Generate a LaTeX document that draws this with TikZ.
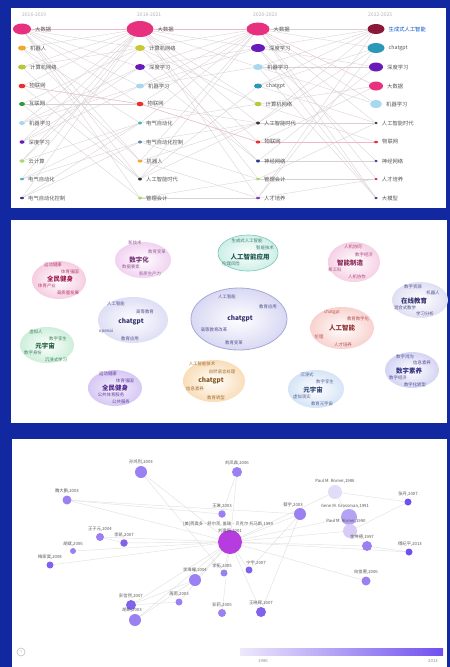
\documentclass[tikz,border=0pt]{standalone}
\usepackage{fontspec}
\setmainfont{Noto Sans CJK SC}
\usetikzlibrary{shapes.geometric}
\pgfdeclarelayer{back}
\pgfdeclarelayer{lines}
\pgfsetlayers{back,lines,main}
\definecolor{bgblue}{HTML}{1228A0}
\definecolor{kwtext}{HTML}{555555}
\definecolor{edgegray}{HTML}{D8D0D4}
\definecolor{edgepink}{HTML}{EEB8CC}
\definecolor{cpink}{HTML}{E8317E}
\definecolor{corange}{HTML}{F0A830}
\definecolor{cyg}{HTML}{B8C83A}
\definecolor{cred}{HTML}{E83030}
\definecolor{cgreen}{HTML}{2A9A3A}
\definecolor{clblue}{HTML}{A8D8F0}
\definecolor{cpurple}{HTML}{6A1AB8}
\definecolor{clgreen}{HTML}{A8D870}
\definecolor{cteal}{HTML}{48B8C0}
\definecolor{cnavy}{HTML}{2A3A8A}
\definecolor{colive}{HTML}{C8C830}
\definecolor{cslate}{HTML}{5A8AA0}
\definecolor{cdark}{HTML}{3A3434}
\definecolor{cdred}{HTML}{8A1838}
\definecolor{cchat}{HTML}{2A98B8}
\definecolor{cviolet}{HTML}{8A3AB8}
\definecolor{crose}{HTML}{C83050}
\definecolor{nmid}{HTML}{9B80F2}
\definecolor{ndark}{HTML}{8262EC}
\definecolor{nnew}{HTML}{7050EE}
\definecolor{nlight}{HTML}{E2DCF8}
\definecolor{nlight2}{HTML}{D6CCF6}
\definecolor{ngene}{HTML}{B6A2F4}
\definecolor{nhub}{HTML}{B63CE0}
\definecolor{nedge}{HTML}{E2E2E2}
\definecolor{barlo}{HTML}{EDE9FC}
\definecolor{fa}{HTML}{F1D2F1}\definecolor{ta}{HTML}{966096}\definecolor{tta}{HTML}{783278}
\definecolor{fb}{HTML}{F6CDE0}\definecolor{tb}{HTML}{B43C6E}\definecolor{ttb}{HTML}{A01E50}
\definecolor{fc}{HTML}{CDEFE6}\definecolor{tc}{HTML}{3C786E}\definecolor{ttc}{HTML}{1E5A50}\definecolor{dc}{HTML}{78C8B9}
\definecolor{fd}{HTML}{D8D8F4}\definecolor{td}{HTML}{50508C}\definecolor{ttd}{HTML}{32326E}\definecolor{dd}{HTML}{A5AAD7}
\definecolor{fe}{HTML}{DEDEF6}
\definecolor{ff}{HTML}{CDEEDB}\definecolor{tf}{HTML}{3C825A}\definecolor{ttf}{HTML}{1E643C}
\definecolor{fg}{HTML}{D6C8F4}\definecolor{fgi}{HTML}{F4F0FC}\definecolor{tg}{HTML}{643CA0}\definecolor{ttg}{HTML}{50288C}
\definecolor{fh}{HTML}{F9DDB8}\definecolor{th}{HTML}{A06E32}\definecolor{tth}{HTML}{825519}
\definecolor{fi}{HTML}{F6D0E4}\definecolor{ti}{HTML}{AA4678}\definecolor{tti}{HTML}{8C285A}
\definecolor{fj}{HTML}{DFDFF4}
\definecolor{fk}{HTML}{F8D2CE}\definecolor{tk}{HTML}{B45050}\definecolor{ttk}{HTML}{963232}
\definecolor{fl}{HTML}{D4D4F4}\definecolor{tl}{HTML}{505096}\definecolor{ttl}{HTML}{323282}
\definecolor{fm}{HTML}{D6E4F6}\definecolor{tm}{HTML}{506496}\definecolor{ttm}{HTML}{324678}
\tikzset{
  bub/.style={ellipse, inner sep=0pt, draw=none},
  kw/.style={font=\fontsize{5.3}{6}\selectfont, text=kwtext, anchor=west, inner sep=0.3pt},
  yr/.style={font=\fontsize{5}{6}\selectfont, text=black!30, anchor=west, inner sep=0pt},
  pe/.style={draw=edgegray, line width=0.35pt},
  pp/.style={draw=edgepink, line width=0.4pt},
  cl/.style={font=\fontsize{4.4}{5}\selectfont, inner sep=0pt},
  cc/.style={font=\fontsize{6.5}{7}\selectfont\bfseries, inner sep=0pt},
  aun/.style={circle, inner sep=0pt, draw=none},
  aul/.style={font=\fontsize{4.3}{5}\selectfont, text=black!65, inner sep=0pt},
  ne/.style={draw=nedge, line width=0.45pt}
}
\newcommand\kwb[7]{\node[bub,fill=#6,minimum width=#4pt,minimum height=#5pt] (#1) at (#2,#3) {};\node[kw] (#1t) at ([xshift=3.5pt]#1.east) {#7};}
\newcommand\au[6]{\node[aun,fill=#5,minimum size=#4pt] (#1) at (#2,#3) {};\node[aul,anchor=south] (#1t) at ([yshift=1.5pt]#1.north) {#6};}
\begin{document}
\begin{tikzpicture}[x=1pt,y=-1pt]
\useasboundingbox (0,0) rectangle (450,667);
\begin{pgfonlayer}{back}
\fill[bgblue] (0,0) rectangle (450,667);
\fill[white] (11,8) rectangle (446,208);
\fill[white] (11,220) rectangle (447,423);
\fill[white] (12,439) rectangle (447,667);
\end{pgfonlayer}

% ---------------- panel 1 ----------------
\node[yr] (h1) at (22,15) {2016-2019};
\node[yr] (h2) at (137,15) {2018-2021};
\node[yr] (h3) at (253,15) {2020-2023};
\node[yr] (h4) at (368,15) {2022-2025};

\kwb{A1}{22}{29}{18}{11}{cpink}{大数据}
\kwb{A2}{22}{48}{8}{5}{corange}{机器人}
\kwb{A3}{22}{67}{8}{5}{cyg}{计算机网络}
\kwb{A4}{22}{86}{7}{4.5}{cred}{物联网}
\kwb{A5}{22}{104}{6}{4}{cgreen}{互联网}
\kwb{A6}{22}{123}{6}{4}{clblue}{机器学习}
\kwb{A7}{22}{142}{5}{3.5}{cpurple}{深度学习}
\kwb{A8}{22}{161}{5}{3.5}{clgreen}{云计算}
\kwb{A9}{22}{179}{4}{2.5}{cteal}{电气自动化}
\kwb{A10}{22}{198}{4}{2.5}{cnavy}{电气自动化控制}

\kwb{B1}{140}{29}{27}{16}{cpink}{大数据}
\kwb{B2}{140}{48}{10}{6}{colive}{计算机网络}
\kwb{B3}{140}{67}{10}{6}{cpurple}{深度学习}
\kwb{B4}{140}{86}{8}{5}{clblue}{机器学习}
\kwb{B5}{140}{104}{7}{4.5}{cred}{物联网}
\kwb{B6}{140}{123}{4}{3}{cteal}{电气自动化}
\kwb{B7}{140}{142}{4}{3}{cslate}{电气自动化控制}
\kwb{B8}{140}{161}{5}{3}{corange}{机器人}
\kwb{B9}{140}{179}{4}{3}{cdark}{人工智能时代}
\kwb{B10}{140}{198}{4}{3}{clgreen}{管理会计}

\kwb{C1}{258}{29}{23}{13}{cpink}{大数据}
\kwb{C2}{258}{48}{14}{8}{cpurple}{深度学习}
\kwb{C3}{258}{67}{10}{6}{clblue}{机器学习}
\kwb{C4}{258}{86}{8}{5}{cchat}{chatgpt}
\kwb{C5}{258}{104}{7}{4.5}{cyg}{计算机网络}
\kwb{C6}{258}{123}{4}{3}{cdark}{人工智能时代}
\kwb{C7}{258}{142}{5}{3}{cred}{物联网}
\kwb{C8}{258}{161}{4}{3}{cnavy}{神经网络}
\kwb{C9}{258}{179}{4}{2.5}{clgreen}{管理会计}
\kwb{C10}{258}{198}{4}{2.5}{cviolet}{人才培养}

\node[bub,fill=cdred,minimum width=17pt,minimum height=10pt] (D1) at (376,29) {};
\node[kw,text=blue!60!cyan!80!black] (D1t) at ([xshift=3.5pt]D1.east) {生成式人工智能};
\kwb{D2}{376}{48}{17}{10}{cchat}{chatgpt}
\kwb{D3}{376}{67}{14}{9}{cpurple}{深度学习}
\kwb{D4}{376}{86}{14}{9}{cpink}{大数据}
\kwb{D5}{376}{104}{12}{8}{clblue}{机器学习}
\kwb{D6}{376}{123}{3.5}{2.5}{cdark}{人工智能时代}
\kwb{D7}{376}{142}{4}{2.5}{cred}{物联网}
\kwb{D8}{376}{161}{3.5}{2.5}{cnavy}{神经网络}
\kwb{D9}{376}{179}{3.5}{2.5}{crose}{人才培养}
\kwb{D10}{376}{198}{3.5}{2.5}{cnavy}{大模型}

\begin{pgfonlayer}{lines}
\draw[pp] (A1) -- (B1);
\foreach \a/\b in {A1/B2,A1/B3,A1/B4,A1/B5,A1/B8,A1/B9,A1/B10,A2/B8,A2/B1,A3/B2,A3/B1,A4/B5,A4/B1,A5/B5,A5/B2,A6/B4,A6/B1,A7/B3,A7/B4,A8/B1,A8/B2,A9/B6,A9/B7,A10/B7,A10/B6,A3/B9,A4/B9,A2/B6,A6/B3,A7/B1,A9/B1,A10/B1,A5/B10,A8/B6}
  \draw[pe] (\a) -- (\b);
\draw[pp] (B1) -- (C1);
\foreach \a/\b in {B1/C2,B1/C3,B1/C5,B1/C6,B1/C7,B1/C9,B1/C10,B2/C5,B2/C1,B3/C2,B3/C1,B3/C8,B4/C3,B4/C1,B4/C2,B5/C7,B5/C1,B6/C1,B7/C6,B8/C6,B8/C1,B9/C6,B9/C1,B9/C4,B10/C9,B10/C10,B2/C8,B5/C6,B6/C5,B7/C9,B8/C10}
  \draw[pe] (\a) -- (\b);
\draw[pp] (C1) -- (D4);
\foreach \a/\b in {C1/D1,C1/D2,C1/D5,C1/D6,C1/D9,C1/D10,C2/D3,C2/D1,C2/D8,C3/D5,C3/D1,C3/D3,C4/D2,C4/D1,C4/D6,C5/D7,C5/D4,C6/D6,C6/D1,C6/D2,C7/D7,C7/D4,C8/D8,C8/D3,C9/D9,C10/D9,C10/D1,C10/D2,C2/D10,C3/D10,C9/D6}
  \draw[pe] (\a) -- (\b);
\draw[pp] (B5) -- (C7);
\draw[pp] (C7) -- (D7);
\draw[pp] (A4) -- (B5);
\end{pgfonlayer}

% ---------------- panel 2 ----------------
% cluster 1
\shade[inner color=white, outer color=fa] (143,260) ellipse [x radius=28pt, y radius=18pt];
\node[cl,text=ta] (k1a) at (135,243) {新技术};
\node[cl,text=ta] (k1b) at (157,252) {教育变革};
\node[cc,text=tta] (k1c) at (139,260) {数字化};
\node[cl,text=ta] (k1d) at (131,267) {数据要素};
\node[cl,text=ta] (k1e) at (150,274) {新质生产力};
% cluster 2
\shade[inner color=white, outer color=fb] (59,280) ellipse [x radius=27pt, y radius=19pt];
\node[cl,text=tb] (k2a) at (53,265) {运动健康};
\node[cl,text=tb] (k2b) at (70,272) {体育强国};
\node[cc,text=ttb] (k2c) at (60,279) {全民健身};
\node[cl,text=tb] (k2d) at (47,286) {体育产业};
\node[cl,text=tb] (k2e) at (68,293) {高质量发展};
% cluster 3
\shade[inner color=white, outer color=fc] (248,253) ellipse [x radius=30pt, y radius=18pt];
\draw[dc, line width=0.6pt] (248,253) ellipse [x radius=30pt, y radius=18pt];
\node[cl,text=tc] (k3a) at (247,241) {生成式人工智能};
\node[cl,text=tc] (k3b) at (265,248) {智能技术};
\node[cc,text=ttc] (k3c) at (250,257) {人工智能应用};
\node[cl,text=tc] (k3d) at (231,264) {伦理风险};
% cluster 4 (big)
\shade[inner color=white, outer color=fd] (239,319) ellipse [x radius=48pt, y radius=31pt];
\draw[dd, line width=0.8pt] (239,319) ellipse [x radius=48pt, y radius=31pt];
\node[cl,text=td] (k4a) at (227,297) {人工智能};
\node[cl,text=td] (k4b) at (268,307) {教育应用};
\node[cc,text=ttd] (k4c) at (240,319) {chatgpt};
\node[cl,text=td] (k4d) at (214,330) {高等教育改革};
\node[cl,text=td] (k4e) at (234,343) {教育变革};
% cluster 5
\shade[inner color=white, outer color=fe] (133,320) ellipse [x radius=35pt, y radius=23pt];
\node[cl,text=td] (k5a) at (116,304) {人工智能};
\node[cl,text=td] (k5b) at (145,312) {高等教育};
\node[cc,text=ttd] (k5c) at (131,322) {chatgpt};
\node[cl,text=td] (k5d) at (106,331) {openai};
\node[cl,text=td] (k5e) at (130,339) {教育应用};
% cluster 6
\shade[inner color=white, outer color=ff] (47,345) ellipse [x radius=27pt, y radius=18pt];
\node[cl,text=tf] (k6a) at (36,332) {虚拟人};
\node[cl,text=tf] (k6b) at (58,339) {数字孪生};
\node[cc,text=ttf] (k6c) at (45,346) {元宇宙};
\node[cl,text=tf] (k6d) at (33,353) {数字身份};
\node[cl,text=tf] (k6e) at (56,360) {沉浸式学习};
% cluster 7
\shade[inner color=fgi, outer color=fg] (115,388) ellipse [x radius=27pt, y radius=18pt];
\node[cl,text=tg] (k7a) at (108,374) {运动健康};
\node[cl,text=tg] (k7b) at (125,381) {体育强国};
\node[cc,text=ttg] (k7c) at (115,388) {全民健身};
\node[cl,text=tg] (k7d) at (111,395) {公共体育服务};
\node[cl,text=tg] (k7e) at (121,402) {公共服务};
% cluster 8
\shade[inner color=white, outer color=fh] (214,381) ellipse [x radius=31pt, y radius=21pt];
\node[cl,text=th] (k8a) at (202,364) {人工智能技术};
\node[cl,text=th] (k8b) at (222,372) {自然语言处理};
\node[cc,text=tth] (k8c) at (211,381) {chatgpt};
\node[cl,text=th] (k8d) at (195,389) {信息素养};
\node[cl,text=th] (k8e) at (216,398) {教育转型};
% cluster 9
\shade[inner color=white, outer color=fi] (354,262) ellipse [x radius=26pt, y radius=20pt];
\node[cl,text=ti] (k9a) at (353,247) {人机协同};
\node[cl,text=ti] (k9b) at (364,255) {数字经济};
\node[cc,text=tti] (k9c) at (350,263) {智能制造};
\node[cl,text=ti] (k9d) at (335,270) {新工科};
\node[cl,text=ti] (k9e) at (357,277) {人机协作};
% cluster 10
\shade[inner color=white, outer color=fj] (420,300) ellipse [x radius=28pt, y radius=18pt];
\node[cl,text=td] (kaa) at (413,287) {数字资源};
\node[cl,text=td] (kab) at (433,293) {机器人};
\node[cc,text=ttd] (kac) at (414,301) {在线教育};
\node[cl,text=td] (kad) at (405,308) {混合式教学};
\node[cl,text=td] (kae) at (425,314) {学习分析};
% cluster 11
\shade[inner color=white, outer color=fk] (342,328) ellipse [x radius=32pt, y radius=21pt];
\node[cl,text=tk] (kba) at (332,312) {chatgpt};
\node[cl,text=tk] (kbb) at (358,319) {教育数字化};
\node[cc,text=ttk] (kbc) at (342,328) {人工智能};
\node[cl,text=tk] (kbd) at (319,337) {伦理};
\node[cl,text=tk] (kbe) at (343,345) {人才培养};
% cluster 12
\shade[inner color=white, outer color=fl] (412,370) ellipse [x radius=27pt, y radius=18pt];
\node[cl,text=tl] (kca) at (405,357) {数字鸿沟};
\node[cl,text=tl] (kcb) at (422,363) {信息素养};
\node[cc,text=ttl] (kcc) at (409,371) {数字素养};
\node[cl,text=tl] (kcd) at (398,378) {数字经济};
\node[cl,text=tl] (kce) at (415,385) {数字化转型};
% cluster 13
\shade[inner color=white, outer color=fm] (316,389) ellipse [x radius=28pt, y radius=19pt];
\node[cl,text=tm] (kda) at (307,375) {沉浸式};
\node[cl,text=tm] (kdb) at (325,382) {数字孪生};
\node[cc,text=ttm] (kdc) at (313,390) {元宇宙};
\node[cl,text=tm] (kdd) at (302,397) {虚拟现实};
\node[cl,text=tm] (kde) at (322,404) {教育元宇宙};

% ---------------- panel 3 ----------------
\node[aun,fill=nhub,minimum size=24pt] (H) at (230,542) {};
\node[aul] (Ht2) at (230,531) {刘建民,2001};
\node[aul] (Ht1) at (228,524) {[美]西奥多·舒尔茨, 盖瑞·贝克尔 托马斯,1999};
\au{n1}{141}{472}{12}{nmid}{孙鸿烈,2003}
\au{n2}{67}{500}{9}{nmid}{魏大鹏,2003}
\au{n3}{237}{472}{10}{nmid}{刘凤森,2006}
\au{n4}{222}{514}{7.5}{nmid}{王琳,2003}
\au{n5}{100}{537}{8}{nmid}{王子元,2004}
\au{n6}{124}{543}{7.5}{ndark}{李凯,2007}
\au{n7}{73}{551}{6}{nmid}{胡斌,2006}
\au{n8}{50}{565}{7}{ndark}{梅家昊,2008}
\au{n9}{195}{580}{12}{nmid}{李海耀,2004}
\node[aun,fill=nmid,minimum size=7pt] (n10) at (224,573) {};
\node[aul] (n10t) at (222,566) {李拓,2005};
\node[aun,fill=ndark,minimum size=7pt] (n11) at (249,570) {};
\node[aul] (n11t) at (256,563) {宁宇,2007};
\au{n12}{222}{613}{8}{nmid}{彭莉,2005}
\au{n13}{261}{612}{10}{ndark}{王晓晖,2007}
\au{n14}{179}{602}{7}{nmid}{周雨,2003}
\au{n15}{131}{605}{10}{ndark}{彭信然,2007}
\node[aun,fill=nmid,minimum size=12pt] (n16) at (135,620) {};
\node[aul] (n16t) at (132,610) {胡凯,2003};
\node[aun,fill=nmid,minimum size=12pt] (n17) at (300,514) {};
\node[aul] (n17t) at (293,505) {蔡宇,2003};
\au{n18}{335}{492}{14}{nlight}{Paul M. Romer,1986}
\node[aun,fill=ngene,minimum size=16pt] (n19) at (349,517) {};
\node[aul] (n19t) at (345,506) {Gene M. Grossman,1991};
\node[aun,fill=nlight2,minimum size=14pt] (n20) at (350,531) {};
\node[aul] (n20t) at (346,521) {Paul M. Romer,1990};
\au{n21}{408}{502}{7}{nnew}{张丹,2007}
\node[aun,fill=nmid,minimum size=10pt] (n22) at (367,546) {};
\node[aul] (n22t) at (362,537) {金坤德,1997};
\node[aun,fill=nnew,minimum size=7pt] (n23) at (409,552) {};
\node[aul] (n23t) at (410,544) {傅纪平,2013};
\au{n24}{366}{581}{9}{nmid}{向佳惠,2006}
\node[circle,draw=black!25,line width=0.6pt,minimum size=8pt,inner sep=0pt,font=\fontsize{4}{4}\selectfont,text=black!35] (q) at (21,652) {?};
\shade[left color=barlo, right color=nnew] (240,648) rectangle (443,655);
\node[aul,text=black!45] (cb1) at (263,661) {1986};
\node[aul,text=black!45] (cb2) at (433,661) {2013};

\begin{pgfonlayer}{lines}
\foreach \n in {n1,n2,n3,n5,n6,n7,n8,n9,n10,n11,n12,n13,n14,n15,n16,n17,n19,n20,n22,n23,n24,n18}
  \draw[ne] (H) -- (\n);
\draw[ne] (n2) -- (n17);
\draw[ne] (n2) -- (n4);
\draw[ne] (n1) -- (n10);
\draw[ne] (n3) -- (n4);
\draw[ne] (n17) -- (n11);
\draw[ne] (n17) -- (n13);
\draw[ne] (n18) -- (n21);
\draw[ne] (n18) -- (n19);
\draw[ne] (n20) -- (n21);
\draw[ne] (n15) -- (n9);
\draw[ne] (n16) -- (n9);
\draw[ne] (n15) -- (n14);
\draw[ne] (n22) -- (n23);
\draw[ne] (n5) -- (n6);
\end{pgfonlayer}
\end{tikzpicture}
\end{document}
